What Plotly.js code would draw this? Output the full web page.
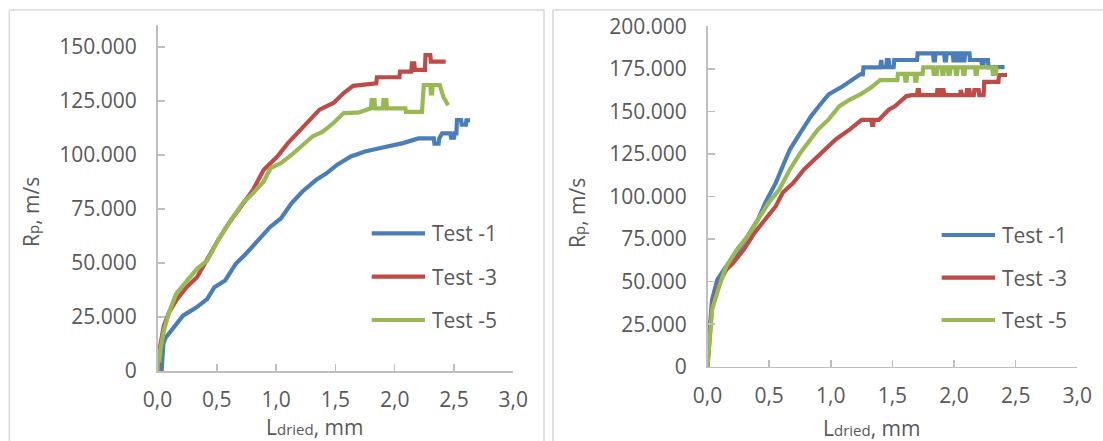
<!DOCTYPE html>
<html>
<head>
<meta charset="utf-8">
<script src="https://cdn.plot.ly/plotly-3.0.1.min.js"></script>
<style>html,body{margin:0;padding:0;background:#fff;}#chart{width:1103px;height:441px;}</style>
</head>
<body>
<div id="chart"></div>
<script>
// ---------- data ----------
const seriesNames = ["Test -1", "Test -3", "Test -5"];
const xTickVals = [0, 0.5, 1, 1.5, 2, 2.5, 3];
const xTickText = ["0,0", "0,5", "1,0", "1,5", "2,0", "2,5", "3,0"];
const yTickValsLeft = [0, 25, 50, 75, 100, 125, 150];
const yTickTextLeft = ["0", "25.000", "50.000", "75.000", "100.000", "125.000", "150.000"];
const yTickValsRight = [0, 25, 50, 75, 100, 125, 150, 175, 200];
const yTickTextRight = ["0", "25.000", "50.000", "75.000", "100.000", "125.000", "150.000", "175.000", "200.000"];

// left panel: [L_dried (mm), Rp]
const leftTest1 = [[0.035,0],[0.04,8],[0.05,13],[0.07,15.5],[0.1,17.5],[0.127,19.4],[0.17,22],[0.215,25.6],[0.27,27.5],[0.33,29.5],[0.42,33.4],[0.48,38.8],[0.57,41.9],[0.66,49.6],[0.746,54.3],[0.864,61.3],[0.95,66.7],[1.04,70.6],[1.13,77.6],[1.22,83],[1.336,88.4],[1.425,91.5],[1.513,95.4],[1.63,99.3],[1.75,101.6],[1.9,103.5],[2.0,104.5],[2.07,105.5],[2.2,107.7],[2.33,107.7],[2.335,105.2],[2.37,105.2],[2.375,107.7],[2.4,110],[2.47,110],[2.475,108],[2.5,108],[2.505,110],[2.52,110],[2.525,116.2],[2.56,116.2],[2.565,114],[2.6,114],[2.605,116],[2.635,116]];
const leftTest3 = [[0.005,0],[0.01,5],[0.02,10.8],[0.053,20.9],[0.097,27.1],[0.157,32.6],[0.245,38.8],[0.333,43.4],[0.42,52],[0.51,60.5],[0.6,68.3],[0.717,77.6],[0.805,83.8],[0.894,93],[1.01,99.3],[1.1,105.5],[1.19,110.9],[1.277,115.5],[1.366,121],[1.484,124.1],[1.57,128.7],[1.65,132],[1.845,133.2],[1.85,136],[2.04,136],[2.045,138.6],[2.14,138.6],[2.145,142.4],[2.165,142.4],[2.17,139.4],[2.255,139.4],[2.26,146.3],[2.3,146.3],[2.305,143.2],[2.43,143.2]];
const leftTest5 = [[0.0,0],[0.005,10],[0.015,4],[0.025,10],[0.053,18.6],[0.097,27.1],[0.157,35.7],[0.245,41.9],[0.333,47.3],[0.42,51.2],[0.51,60.5],[0.6,68.3],[0.717,77.6],[0.805,82.3],[0.894,87.6],[0.953,93.9],[1.04,96.2],[1.13,100],[1.22,104.7],[1.307,108.6],[1.396,110.9],[1.484,114.8],[1.57,119.4],[1.69,119.6],[1.8,121.6],[1.805,125.4],[1.83,125.4],[1.835,121.6],[1.9,121.6],[1.905,125.4],[1.93,125.4],[1.935,121.6],[2.09,121.6],[2.095,120],[2.23,120],[2.245,132.4],[2.3,132.4],[2.305,128.5],[2.315,128.5],[2.32,132.4],[2.38,132.4],[2.41,127],[2.45,123]];

// right panel: [L_dried (mm), Rp]
const rightTest1 = [[0,0],[0.01,15],[0.037,39.4],[0.08,51.2],[0.152,59],[0.238,66.9],[0.324,76.6],[0.41,86.5],[0.468,96.3],[0.554,108],[0.61,117.8],[0.668,127.6],[0.754,137.5],[0.84,147.2],[0.926,155.1],[0.983,160],[1.1,164.9],[1.185,168.8],[1.24,171.8],[1.26,171.8],[1.265,175.9],[1.4,175.9],[1.405,180.2],[1.41,180.2],[1.415,176],[1.45,176],[1.455,180.2],[1.47,180.2],[1.475,176],[1.51,176],[1.515,180.2],[1.7,180.2],[1.705,184.1],[1.83,184.1],[1.835,180],[1.845,180],[1.85,184.1],[1.92,184.1],[1.925,180],[1.935,180],[1.94,184.1],[1.99,184.1],[1.995,180],[2.005,180],[2.01,184.1],[2.03,184.1],[2.035,180],[2.045,180],[2.05,184.1],[2.07,184.1],[2.075,180],[2.085,180],[2.09,184.1],[2.125,184.1],[2.13,180.2],[2.22,180.2],[2.225,178],[2.24,178],[2.245,180.2],[2.275,180.2],[2.28,176],[2.41,176]];
const rightTest3 = [[0,0],[0.037,35.5],[0.095,49.2],[0.152,56.9],[0.209,61],[0.295,68.8],[0.381,78.6],[0.468,86.5],[0.554,94.3],[0.61,102.2],[0.697,108],[0.783,115.9],[0.868,121.8],[0.954,127.6],[1.04,133.5],[1.155,139.4],[1.25,145],[1.33,145],[1.335,142],[1.345,142],[1.35,145],[1.39,145],[1.42,147],[1.47,151],[1.52,153],[1.556,155.1],[1.58,156.7],[1.614,159],[1.66,159.6],[1.7,159.6],[1.705,162.5],[1.715,162.5],[1.72,159.6],[1.86,159.6],[1.865,162.5],[1.875,162.5],[1.88,159.6],[1.9,159.6],[1.905,162.5],[1.915,162.5],[1.92,159.6],[2.05,159.6],[2.055,162.5],[2.065,159.6],[2.1,159.6],[2.105,162.5],[2.125,162.5],[2.13,159.6],[2.16,159.6],[2.165,162.5],[2.2,162.5],[2.205,159.6],[2.24,159.6],[2.245,167.4],[2.36,167.4],[2.365,171.4],[2.43,171.4]];
const rightTest5 = [[0,0],[0.037,33.5],[0.095,47.3],[0.152,59],[0.238,68.8],[0.324,76.6],[0.41,86.5],[0.496,96.3],[0.582,104.1],[0.668,115.9],[0.754,125.7],[0.84,133.5],[0.897,139.4],[0.983,145.3],[1.07,153.1],[1.155,157],[1.24,160],[1.327,164],[1.4,168.4],[1.54,168.4],[1.545,172],[1.6,172],[1.605,168],[1.615,168],[1.62,172],[1.68,172],[1.685,168],[1.695,168],[1.7,172],[1.745,172],[1.75,175.9],[1.83,175.9],[1.835,172],[1.86,172],[1.865,175.9],[1.9,175.9],[1.905,172],[1.915,172],[1.92,175.9],[1.95,175.9],[1.955,172],[1.965,172],[1.97,175.9],[2.01,175.9],[2.015,172],[2.025,172],[2.03,175.9],[2.07,175.9],[2.075,172],[2.085,172],[2.09,175.9],[2.17,175.9],[2.175,172],[2.185,172],[2.19,175.9],[2.31,175.9],[2.315,172],[2.34,172],[2.345,175.9],[2.355,175.9]];

// ---------- styling ----------
const W = 1103, H = 441;
const colors = ["#4A7EBB", "#BE4B48", "#98B954"];
const FONT = "Open Sans, Liberation Sans, sans-serif";
const TXT = "#595959";
const AXC = "#BFBFBF";
const px = v => v / W;
const py = v => 1 - v / H;

const mk = (pts, i, xa, ya) => ({
  x: pts.map(p => p[0]), y: pts.map(p => p[1]), name: seriesNames[i],
  type: "scatter", mode: "lines", xaxis: xa, yaxis: ya, showlegend: false,
  line: {color: colors[i], width: 4.2}
});

const data = [
  mk(leftTest1, 0, "x", "y"),
  mk(leftTest3, 1, "x", "y"),
  mk(leftTest5, 2, "x", "y"),
  mk(rightTest1, 0, "x2", "y2"),
  mk(rightTest3, 1, "x2", "y2"),
  mk(rightTest5, 2, "x2", "y2")
];

const axBase = {
  showline: true, linecolor: AXC, linewidth: 1.5, showgrid: false, zeroline: false,
  ticks: "inside", ticklen: 7, tickwidth: 1.5, tickcolor: AXC,
  tickfont: {family: FONT, size: 21, color: TXT}, fixedrange: true
};

const layout = {
  width: W, height: H, margin: {l: 0, r: 0, t: 0, b: 0},
  paper_bgcolor: "#fff", plot_bgcolor: "rgba(0,0,0,0)",
  showlegend: false,
  xaxis: Object.assign({}, axBase, {domain: [px(157.5), px(513.3)], range: [0, 3], tickmode: "array", tickvals: xTickVals, ticktext: xTickText, anchor: "y", ticklabelstandoff: 9}),
  yaxis: Object.assign({}, axBase, {domain: [py(371), py(25.4)], range: [0, 160], tickmode: "array", tickvals: yTickValsLeft, ticktext: yTickTextLeft, anchor: "x", ticklabelstandoff: 15}),
  xaxis2: Object.assign({}, axBase, {domain: [px(707.5), px(1077.3)], range: [0, 3], tickmode: "array", tickvals: xTickVals, ticktext: xTickText, anchor: "y2", ticklabelstandoff: 10}),
  yaxis2: Object.assign({}, axBase, {domain: [py(366.7), py(26.3)], range: [0, 200], tickmode: "array", tickvals: yTickValsRight, ticktext: yTickTextRight, anchor: "x2", ticklabelstandoff: 15}),
  shapes: [],
  annotations: []
};

// panel frames
const frame = {type: "line", xref: "paper", yref: "paper", line: {color: "#D9D9D9", width: 1.5}};
layout.shapes.push(Object.assign({}, frame, {x0: px(9.3), x1: px(9.3), y0: py(10), y1: py(445)}));
layout.shapes.push(Object.assign({}, frame, {x0: px(9.3), x1: px(544), y0: py(10), y1: py(10)}));
layout.shapes.push(Object.assign({}, frame, {x0: px(544), x1: px(544), y0: py(10), y1: py(445)}));
layout.shapes.push(Object.assign({}, frame, {x0: px(553), x1: px(553), y0: py(10), y1: py(445)}));
layout.shapes.push(Object.assign({}, frame, {x0: px(553), x1: px(1110), y0: py(10), y1: py(10)}));

// legends (line sample + text)
const legends = [
  {x0: 371.7, x1: 425, tx: 430, ys: [233.3, 276.7, 320]},
  {x0: 941.7, x1: 995, tx: 1000, ys: [235, 277.7, 320]}
];
legends.forEach(lg => {
  seriesNames.forEach((nm, i) => {
    layout.shapes.push({type: "line", xref: "paper", yref: "paper",
      x0: px(lg.x0), x1: px(lg.x1), y0: py(lg.ys[i]), y1: py(lg.ys[i]),
      line: {color: colors[i], width: 4.2}});
    layout.annotations.push({xref: "paper", yref: "paper", x: px(lg.tx), y: py(lg.ys[i]),
      xanchor: "left", yanchor: "middle", showarrow: false, text: nm,
      font: {family: FONT, size: 21, color: TXT}});
  });
});

// axis titles
const titleFont = {family: FONT, size: 21, color: TXT};
const yTitle = "R<span style='font-size:15px'>p</span>, m/s";
const xTitle = "L<span style='font-size:15px'>dried</span>, mm";
layout.annotations.push({xref: "paper", yref: "paper", x: px(31), y: py(212), textangle: -90,
  xanchor: "center", yanchor: "middle", showarrow: false, text: yTitle, font: titleFont});
layout.annotations.push({xref: "paper", yref: "paper", x: px(577), y: py(213), textangle: -90,
  xanchor: "center", yanchor: "middle", showarrow: false, text: yTitle, font: titleFont});
layout.annotations.push({xref: "paper", yref: "paper", x: px(314), y: py(427),
  xanchor: "center", yanchor: "middle", showarrow: false, text: xTitle, font: titleFont});
layout.annotations.push({xref: "paper", yref: "paper", x: px(871), y: py(428),
  xanchor: "center", yanchor: "middle", showarrow: false, text: xTitle, font: titleFont});

Plotly.newPlot("chart", data, layout, {displayModeBar: false, staticPlot: true});
</script>
</body>
</html>
